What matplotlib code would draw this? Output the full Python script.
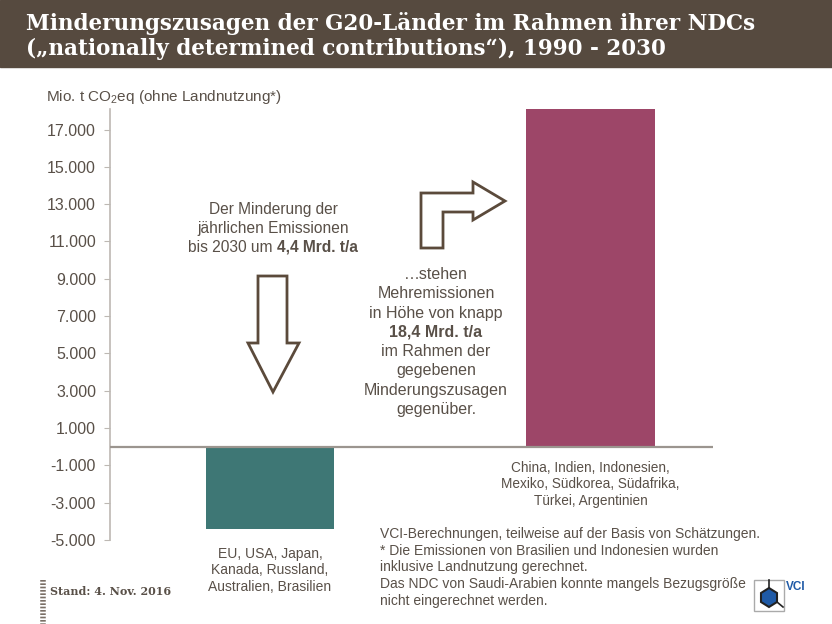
import matplotlib
matplotlib.use('Agg')
import matplotlib.pyplot as plt
import matplotlib.transforms as mtransforms
from matplotlib.patches import Polygon, Rectangle
from matplotlib.ticker import FuncFormatter

# Werte (Mio. t CO2eq)
groups = ['EU, USA, Japan,\nKanada, Russland,\nAustralien, Brasilien',
          'China, Indien, Indonesien,\nMexiko, Südkorea, Südafrika,\nTürkei, Argentinien']
values = [-4400, 18100]
colors = ['#3e7775', '#9d4668']
yticks = list(range(-5000, 17001, 2000))

TXT = '#595048'
BROWN = '#564a3f'

plt.rcParams['font.family'] = ['Liberation Sans', 'DejaVu Sans']
plt.rcParams['mathtext.fontset'] = 'custom'
plt.rcParams['mathtext.rm'] = 'Liberation Sans'

W, H = 832, 624
fig = plt.figure(figsize=(W / 100, H / 100), dpi=100)
# pixel coordinates, y going down
px = mtransforms.Affine2D().scale(1 / W, -1 / H).translate(0, 1) + fig.transFigure

# title band
fig.patches.append(Rectangle((0, 0), W, 67, transform=px, color=BROWN, zorder=0))
fig.text(26, 30, 'Minderungszusagen der G20-Länder im Rahmen ihrer NDCs', transform=px,
         color='white', fontsize=15.5, fontweight='bold', family='DejaVu Serif', va='baseline')
fig.text(26, 55, '(„nationally determined contributions“), 1990 - 2030', transform=px,
         color='white', fontsize=15.5, fontweight='bold', family='DejaVu Serif', va='baseline')

ax = fig.add_axes([110 / W, 1 - 540 / H, (713 - 110) / W, (540 - 109) / H])
x = [0, 1]
ax.bar(x, values, width=0.4, color=colors, zorder=2)
ax.axhline(0, color='#9b958f', lw=1.6, zorder=3)
ax.set_xlim(-0.499, 1.382)
ax.set_ylim(-5000, 18100)
ax.set_yticks(yticks)
ax.yaxis.set_major_formatter(FuncFormatter(lambda v, p: f'{int(v):,}'.replace(',', '.')))
ax.set_xticks([])
for s in ['top', 'right', 'bottom']:
    ax.spines[s].set_visible(False)
ax.spines['left'].set_color('#bdb8b3')
ax.spines['left'].set_linewidth(1.2)
ax.tick_params(axis='y', colors='#bdb8b3', labelcolor=TXT, labelsize=11.5, length=4, pad=6)

fig.text(46, 101, 'Mio. t CO$_2$eq (ohne Landnutzung*)', transform=px, color=TXT,
         fontsize=11, va='baseline')

# group labels
ax.text(x[0], -5350, groups[0], ha='center', va='top', color=TXT, fontsize=10, linespacing=1.25)
ax.text(x[1], -750, groups[1], ha='center', va='top', color=TXT, fontsize=9.8, linespacing=1.25)

fig.canvas.draw()
r = fig.canvas.get_renderer()


def mixed_line(xc, yb, normal, bold, size=11.2):
    t1 = fig.text(0, yb, normal, transform=px, color=TXT, fontsize=size, va='baseline')
    t2 = fig.text(0, yb, bold, transform=px, color=TXT, fontsize=size, va='baseline',
                  fontweight='bold')
    w1 = t1.get_window_extent(r).width
    w2 = t2.get_window_extent(r).width
    x0 = xc - (w1 + w2) / 2
    t1.set_x(x0)
    t2.set_x(x0 + w1)


# left annotation
fig.text(273, 214, 'Der Minderung der', transform=px, color=TXT, fontsize=11.2, ha='center', va='baseline')
fig.text(273, 233, 'jährlichen Emissionen', transform=px, color=TXT, fontsize=11.2, ha='center', va='baseline')
mixed_line(273, 252, 'bis 2030 um ', '4,4 Mrd. t/a')

# right annotation
rlines = ['…stehen', 'Mehremissionen', 'in Höhe von knapp', None,
          'im Rahmen der', 'gegebenen', 'Minderungszusagen', 'gegenüber.']
for i, s in enumerate(rlines):
    yb = 279 + i * 19.3
    if s is None:
        fig.text(436, yb, '18,4 Mrd. t/a', transform=px, color=TXT, fontsize=11.5,
                 ha='center', va='baseline', fontweight='bold')
    else:
        fig.text(436, yb, s, transform=px, color=TXT, fontsize=11.5, ha='center', va='baseline')

# arrows
down = [(258, 276), (287, 276), (287, 343), (299, 343), (273, 392), (248, 343), (258, 343)]
fig.patches.append(Polygon(down, closed=True, transform=px, facecolor='white',
                           edgecolor='#5b4a3b', lw=2, zorder=3))
elbow = [(421, 248), (421, 193), (473, 193), (473, 182), (505, 201), (473, 220),
         (473, 212), (443, 212), (443, 248)]
fig.patches.append(Polygon(elbow, closed=True, transform=px, facecolor='white',
                           edgecolor='#5b4a3b', lw=2, zorder=3))

# footnote
foot = ['VCI-Berechnungen, teilweise auf der Basis von Schätzungen.',
        '* Die Emissionen von Brasilien und Indonesien wurden',
        'inklusive Landnutzung gerechnet.',
        'Das NDC von Saudi-Arabien konnte mangels Bezugsgröße',
        'nicht eingerechnet werden.']
for i, s in enumerate(foot):
    fig.text(380, 538 + i * 16.7, s, transform=px, color=TXT, fontsize=10, va='baseline')

# Stand
fig.text(50, 595, 'Stand: 4. Nov. 2016', transform=px, color=TXT, fontsize=8,
         fontweight='bold', family='DejaVu Serif', va='baseline')
fig.add_artist(plt.Line2D([43, 43], [580, 624], transform=px, color='#7a6f66', lw=4,
                          linestyle=(0, (0.3, 0.3))))

# VCI logo
fig.patches.append(Rectangle((754, 580), 30, 31, transform=px, facecolor='white',
                             edgecolor='#aaaaaa', lw=1))
hexp = [(769, 588), (777, 593), (777, 602), (769, 607), (761, 602), (761, 593)]
fig.patches.append(Polygon(hexp, closed=True, transform=px, facecolor='#1f5aa6',
                           edgecolor='#222222', lw=1.5))
fig.add_artist(plt.Line2D([769, 769], [580, 588], transform=px, color='#222222', lw=1.2))
fig.add_artist(plt.Line2D([777, 783], [602, 607], transform=px, color='#222222', lw=1.2))
fig.text(786, 590, 'VCI', transform=px, color='#1f5aa6', fontsize=8.5, fontweight='bold',
         va='baseline')

fig.savefig('out.png', dpi=100)
